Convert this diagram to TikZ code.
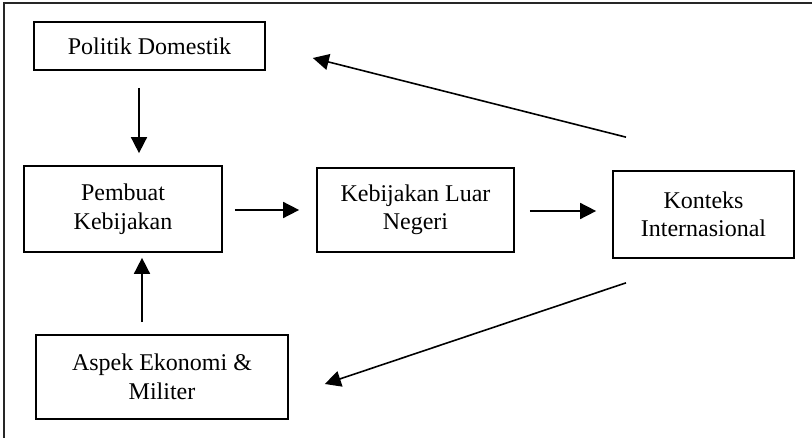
\documentclass[tikz,border=0pt]{standalone}
\usepackage{fontspec}
\setmainfont{Liberation Serif}
\usetikzlibrary{arrows.meta,calc}
\begin{document}
\begin{tikzpicture}[x=1pt,y=-1pt,
  box/.style={draw=black,line width=1.7pt,rectangle,align=center,inner sep=0pt,
    font=\fontsize{24}{28.5}\selectfont},
  arr/.style={line width=1.6pt,-{Triangle[length=16pt,width=16pt]}},
  frame/.style={line width=2pt,draw=black!85}]
\useasboundingbox (0,0) rectangle (812,438);
\draw[frame] (812,3) -- (4,3) -- (4,438);
\node[box,minimum width=231pt,minimum height=48pt] (pd) at (149.5,46) {Politik Domestik};
\node[box,minimum width=198pt,minimum height=86pt] (pk) at (123,209) {Pembuat\\Kebijakan};
\node[box,minimum width=197pt,minimum height=84pt] (kl) at (415.5,210) {Kebijakan Luar\\Negeri};
\node[box,minimum width=181pt,minimum height=87pt] (ki) at (703.5,214.5) {Konteks\\Internasional};
\node[box,minimum width=252pt,minimum height=84pt] (ae) at (162,377) {Aspek Ekonomi \&\\Militer};
\draw[arr] ($(pd.south)+(-10.5,17)$) -- ($(pk.north)+(16,-12)$);
\draw[arr] ($(pk.east)+(12,1)$) -- ($(kl.west)+(-17,0)$);
\draw[arr] ($(kl.east)+(15,1)$) -- ($(ki.west)+(-16,-3.5)$);
\draw[arr] ($(ki.north)+(-77.5,-33)$) -- ($(pd.east)+(47,12)$);
\draw[arr] ($(ki.south)+(-77.5,24)$) -- ($(ae.east)+(36,7)$);
\draw[arr] ($(ae.north)+(-20,-12)$) -- ($(pk.south)+(19,5)$);
\end{tikzpicture}
\end{document}
